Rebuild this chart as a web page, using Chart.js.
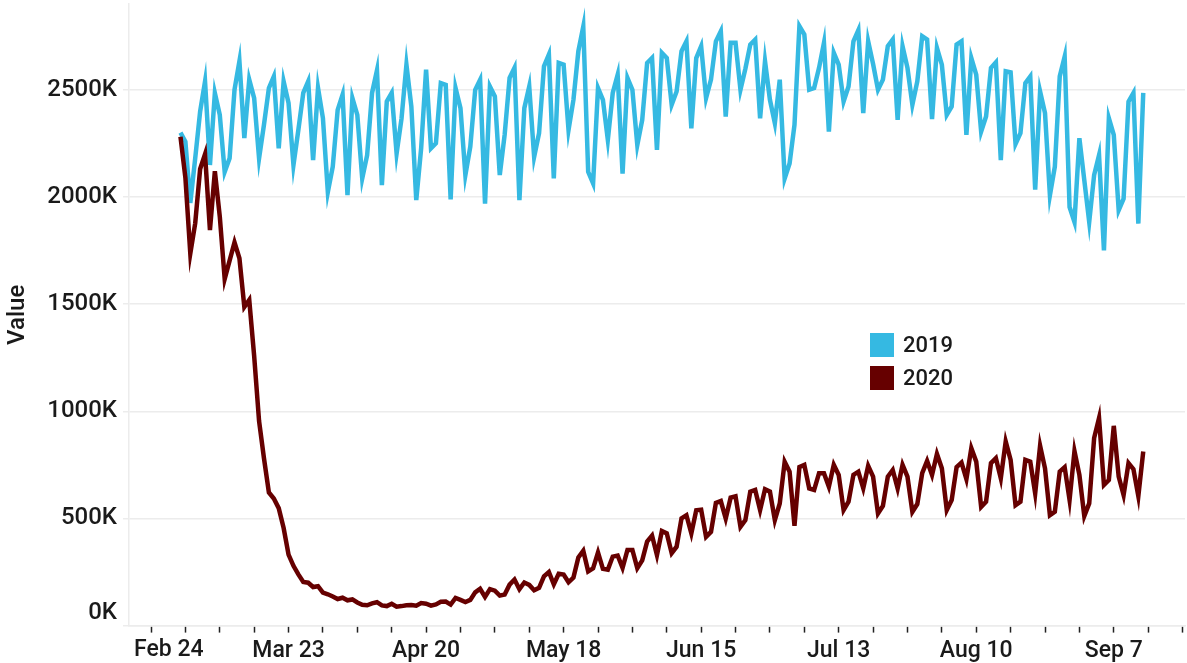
<!DOCTYPE html>
<html>
<head>
<meta charset="utf-8">
<script src="https://cdn.jsdelivr.net/npm/chart.js@4.4.0/dist/chart.umd.min.js"></script>
<style>
  html, body { margin: 0; padding: 0; background: #fff; }
  #wrap { position: relative; width: 1187px; height: 663px; }
  #legend { position: absolute; left: 870px; top: 328px; font: 500 22px Roboto, sans-serif; color: #1a1a1a; }
  .row { display: flex; align-items: center; height: 33px; }
  .sw { width: 24px; height: 24px; margin-right: 9px; }
</style>
</head>
<body>
<div id="wrap">
  <canvas id="chart" width="1187" height="663"></canvas>
  <div id="legend"></div>
</div>
<script>
// daily values in thousands, Mar 1 .. Sep 13 (day 0 = Mar 1)
const seriesNames = ['2019', '2020'];
const seriesColors = ['#35b9e2', '#660000'];

const values2019 = [
  2300, 2258, 1972, 2180, 2398, 2539, 2149, 2485, 2383, 2117, 2180, 2500, 2633, 2274,
  2547, 2461, 2180, 2337, 2508, 2562, 2227, 2539, 2438, 2149, 2313, 2485, 2539, 2172,
  2508, 2367, 2023, 2141, 2406, 2477, 2008, 2461, 2383, 2086, 2195, 2485, 2590, 2055,
  2445, 2485, 2203, 2366, 2617, 2422, 1985, 2228, 2594, 2227, 2250, 2531, 2523, 1988,
  2508, 2414, 2102, 2234, 2500, 2547, 1969, 2515, 2469, 2102, 2291, 2555, 2602, 1985,
  2414, 2515, 2187, 2297, 2609, 2664, 2086, 2625, 2617, 2312, 2453, 2680, 2794, 2117,
  2063, 2508, 2453, 2266, 2485, 2570, 2109, 2555, 2500, 2242, 2359, 2625, 2648, 2219,
  2672, 2648, 2430, 2492, 2680, 2726, 2320, 2648, 2703, 2461, 2547, 2726, 2773, 2375,
  2719, 2719, 2500, 2598, 2711, 2734, 2367, 2633, 2453, 2344, 2547, 2086, 2156, 2336,
  2797, 2758, 2500, 2508, 2602, 2719, 2305, 2672, 2617, 2445, 2515, 2726, 2778, 2391,
  2726, 2620, 2500, 2547, 2703, 2734, 2359, 2703, 2602, 2430, 2539, 2750, 2734, 2363,
  2695, 2617, 2383, 2422, 2711, 2726, 2289, 2648, 2570, 2305, 2375, 2602, 2628, 2172,
  2586, 2581, 2247, 2297, 2531, 2562, 2034, 2492, 2391, 2008, 2141, 2562, 2654, 1953,
  1883, 2274, 2078, 1883, 2102, 2195, 1750, 2367, 2289, 1938, 1992, 2445, 2485, 1875,
  2485
];

const values2020 = [
  2281, 2090, 1736, 1877, 2130, 2199, 1845, 2120, 1909, 1617, 1703, 1788, 1714, 1486,
  1519, 1258, 954, 780, 621, 593, 548, 455, 331, 279, 239, 204, 200, 180,
  184, 154, 146, 136, 124, 130, 118, 122, 108, 97, 95, 104, 109, 94,
  91, 102, 88, 91, 95, 96, 93, 105, 102, 93, 99, 111, 112, 98,
  129, 120, 110, 120, 155, 172, 134, 170, 163, 140, 145, 191, 215, 170,
  201, 190, 165, 176, 230, 250, 193, 242, 238, 202, 224, 318, 349, 253,
  267, 341, 265, 261, 322, 327, 269, 353, 353, 268, 304, 392, 420, 329,
  441, 430, 338, 368, 500, 515, 430, 538, 541, 414, 437, 572, 581, 500,
  597, 603, 461, 492, 625, 633, 539, 636, 625, 492, 570, 764, 718, 466,
  740, 750, 640, 633, 711, 711, 648, 750, 703, 539, 578, 703, 718, 641,
  745, 695, 523, 558, 695, 726, 640, 750, 695, 531, 567, 711, 768, 703,
  801, 734, 539, 586, 739, 760, 683, 828, 765, 554, 578, 758, 781, 687,
  859, 773, 562, 578, 773, 765, 617, 839, 734, 515, 531, 718, 739, 586,
  814, 703, 511, 570, 875, 968, 656, 679, 932, 695, 609, 758, 730, 604,
  812
];

// x axis: labelled ticks (day offsets from Mar 1)
const tickDays = [-6, 22, 50, 78, 106, 134, 162, 190];
const tickLabels = ['Feb 24', 'Mar 23', 'Apr 20', 'May 18', 'Jun 15', 'Jul 13', 'Aug 10', 'Sep 7'];
const yTicks = [0, 500000, 1000000, 1500000, 2000000, 2500000];

const FONT = 'Roboto';
const TEXT = '#1a1a1a';
const Y_FONT = 24, X_FONT = 23;

function toPoints(arr) {
  return arr.map((v, i) => ({ x: i, y: v * 1000 }));
}

// first y label sits above the baseline, first x label is flushed right
const flushLabels = {
  id: 'flushLabels',
  afterDraw(chart) {
    const ctx = chart.ctx;
    const ys = chart.scales.y, xs = chart.scales.x;
    ctx.save();
    ctx.fillStyle = TEXT;
    ctx.font = '500 ' + Y_FONT + 'px ' + FONT;
    ctx.textAlign = 'right';
    ctx.textBaseline = 'middle';
    ctx.fillText('0K', ys.right - 12, ys.getPixelForValue(0) - 13);
    ctx.font = '500 ' + X_FONT + 'px ' + FONT;
    ctx.textAlign = 'left';
    ctx.textBaseline = 'top';
    ctx.fillText(tickLabels[0], chart.chartArea.left + 5, xs.top + 13);
    ctx.restore();
  }
};

const ctx = document.getElementById('chart').getContext('2d');
const chart = new Chart(ctx, {
  type: 'line',
  data: {
    datasets: [
      {
        label: seriesNames[1],
        data: toPoints(values2020),
        borderColor: seriesColors[1],
        backgroundColor: seriesColors[1],
        borderWidth: 4.5,
        pointRadius: 0,
        tension: 0,
        order: 0
      },
      {
        label: seriesNames[0],
        data: toPoints(values2019),
        borderColor: seriesColors[0],
        backgroundColor: seriesColors[0],
        borderWidth: 4.5,
        pointRadius: 0,
        tension: 0,
        order: 1
      }
    ]
  },
  options: {
    responsive: false,
    devicePixelRatio: 1,
    animation: false,
    layout: { padding: { top: 4, right: 2, left: 0, bottom: 0 } },
    plugins: {
      legend: { display: false },
      tooltip: { enabled: false }
    },
    scales: {
      x: {
        type: 'linear',
        min: -10.48,
        max: 204.5,
        afterBuildTicks: (scale) => {
          const t = [];
          for (let d = tickDays[0]; d <= 204; d += 7) t.push({ value: d });
          scale.ticks = t;
        },
        afterFit: (scale) => {
          scale.height = 37.4;
          scale.paddingLeft = 0;
          scale.paddingRight = 0;
        },
        grid: {
          drawOnChartArea: false,
          drawTicks: true,
          tickLength: 7,
          tickColor: '#222',
          tickWidth: 1.5
        },
        border: { display: true, color: '#ececec', width: 1.5 },
        ticks: {
          autoSkip: false,
          maxRotation: 0,
          padding: 5,
          color: TEXT,
          font: { family: FONT, size: X_FONT, weight: '500' },
          callback: (v) => {
            const k = tickDays.indexOf(v);
            return k > 0 ? tickLabels[k] : '';
          }
        }
      },
      y: {
        min: 0,
        max: 2900000,
        afterBuildTicks: (scale) => {
          scale.ticks = yTicks.map(v => ({ value: v }));
        },
        afterFit: (scale) => {
          scale.width = 129;
          scale.paddingTop = 0;
          scale.paddingBottom = 0;
        },
        grid: {
          color: '#ececec',
          lineWidth: 1.5,
          drawTicks: true,
          tickLength: 6
        },
        border: { display: true, color: '#ececec', width: 1.5 },
        ticks: {
          padding: 6,
          color: TEXT,
          font: { family: FONT, size: Y_FONT, weight: '500' },
          callback: (v) => v === 0 ? '' : (v / 1000) + 'K'
        },
        title: {
          display: true,
          text: 'Value',
          color: TEXT,
          font: { family: FONT, size: 24, weight: '500' },
          padding: { top: 4, bottom: 0 }
        }
      }
    }
  },
  plugins: [flushLabels]
});

// legend
const legend = document.getElementById('legend');
seriesNames.forEach((name, i) => {
  const row = document.createElement('div');
  row.className = 'row';
  const sw = document.createElement('div');
  sw.className = 'sw';
  sw.style.background = seriesColors[i];
  const label = document.createElement('span');
  label.textContent = name;
  row.appendChild(sw);
  row.appendChild(label);
  legend.appendChild(row);
});
</script>
</body>
</html>
